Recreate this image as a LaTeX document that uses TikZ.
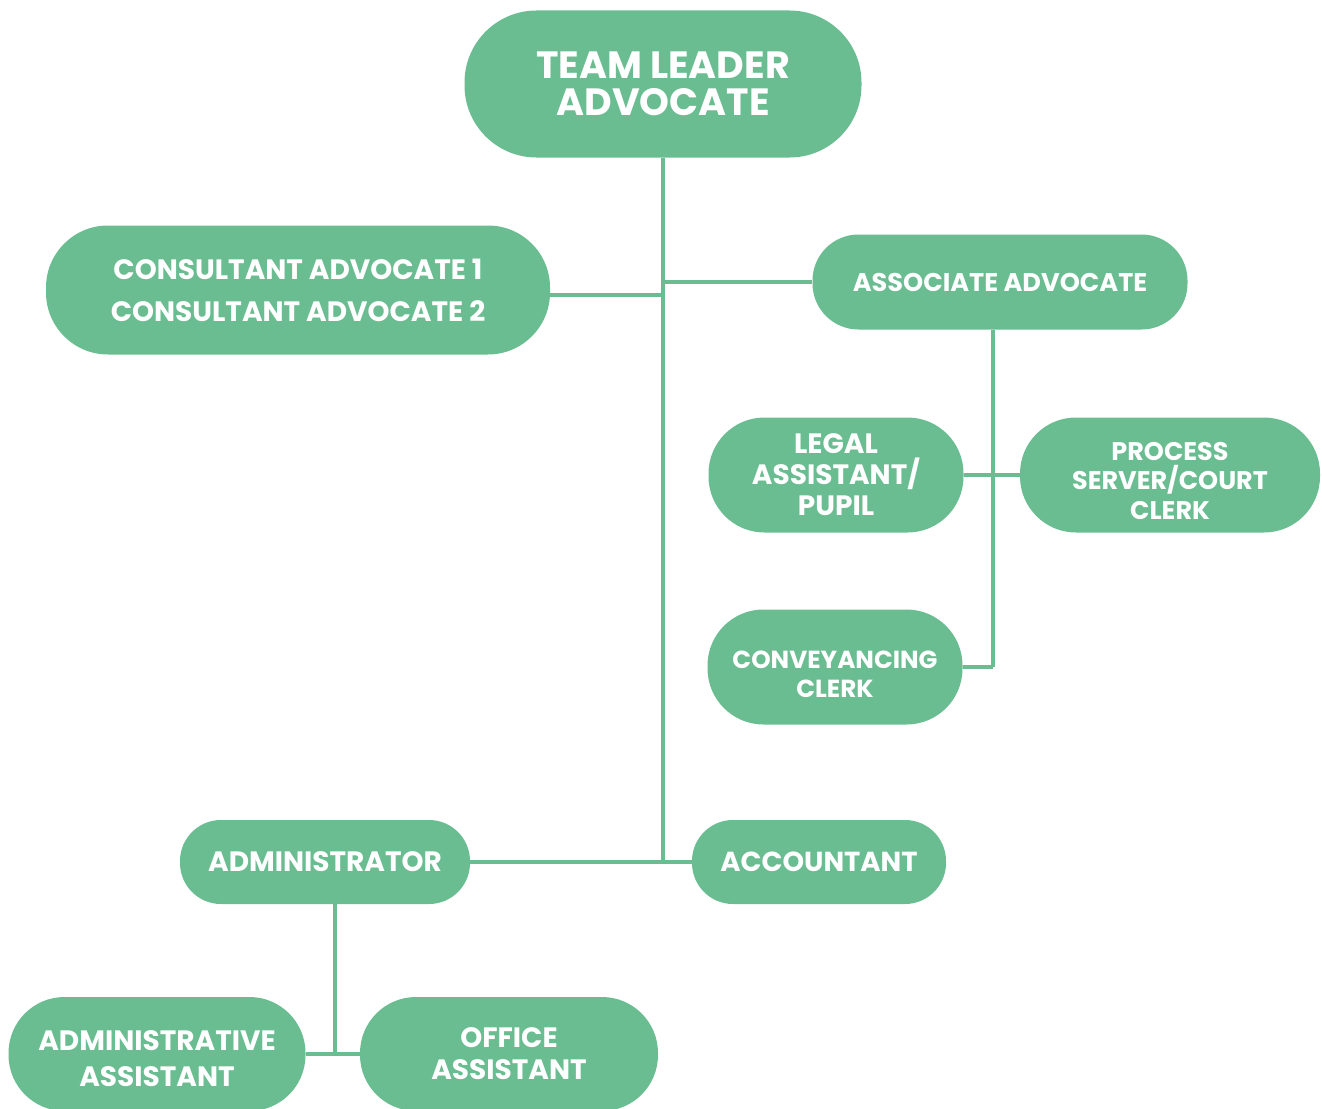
\documentclass[tikz,border=0pt]{standalone}
\usepackage{fontspec}
\setsansfont{Poppins}
\usepackage{tikz}
\usetikzlibrary{calc, positioning}
\definecolor{orggreen}{RGB}{106,189,145}

\tikzset{
	orgbox/.style={rectangle, fill=orggreen, text=white, align=center, inner sep=0pt,
		font=\sffamily\bfseries, rounded corners=#1},
	orgbox/.default=40pt,
	link/.style={draw=orggreen, line width=4pt},
}

\begin{document}
\begin{tikzpicture}[x=1pt,y=1pt,yscale=-1,xscale=1]
		\useasboundingbox (0,0) rectangle (1322,1108);
		\clip (0,0) rectangle (1322,1108);

		% Boxes
		\node [orgbox=72pt, minimum width=397pt, minimum height=147pt, font=\sffamily\bfseries\fontsize{38}{37}\selectfont] (lead) at (663,84) {TEAM LEADER\\ADVOCATE};
		\node [orgbox=62pt, minimum width=504pt, minimum height=129pt, font=\sffamily\bfseries\fontsize{28}{42}\selectfont] (cons) at (298,290) {CONSULTANT ADVOCATE 1\\CONSULTANT ADVOCATE 2};
		\node [orgbox=46pt, minimum width=375pt, minimum height=95pt, font=\sffamily\bfseries\fontsize{25.6}{30}\selectfont] (assoc) at (1000,282) {ASSOCIATE ADVOCATE};
		\node [orgbox=56pt, minimum width=255pt, minimum height=115pt, font=\sffamily\bfseries\fontsize{28}{31}\selectfont] (legal) at (836,475) {LEGAL\\ASSISTANT/\\PUPIL};
		\node [orgbox=56pt, minimum width=300pt, minimum height=115pt, font=\sffamily\bfseries\fontsize{25.5}{29.5}\selectfont] (proc) at (1170,475) {\rule{0pt}{30pt}PROCESS\\SERVER/COURT\\CLERK};
		\node [orgbox=56pt, minimum width=255pt, minimum height=115pt, font=\sffamily\bfseries\fontsize{24.7}{29}\selectfont] (conv) at (835,667) {\rule{0pt}{32pt}CONVEYANCING\\CLERK};
		\node [orgbox=41pt, minimum width=290pt, minimum height=84pt, font=\sffamily\bfseries\fontsize{28}{30}\selectfont] (admin) at (325,862) {ADMINISTRATOR};
		\node [orgbox=41pt, minimum width=254pt, minimum height=84pt, font=\sffamily\bfseries\fontsize{27.5}{30}\selectfont] (acct) at (819,862) {ACCOUNTANT};
		\node [orgbox=56pt, minimum width=297pt, minimum height=114pt, font=\sffamily\bfseries\fontsize{28}{36}\selectfont] (adasst) at (157,1054) {\rule{0pt}{30pt}ADMINISTRATIVE\\ASSISTANT};
		\node [orgbox=56pt, minimum width=298pt, minimum height=114pt, font=\sffamily\bfseries\fontsize{28}{32}\selectfont] (office) at (509,1054) {OFFICE\\ASSISTANT};

		% Junction points
		\coordinate (trunk) at (lead.south |- acct.west);
		\coordinate (assocdrop) at ([xshift=-7pt]assoc.south);
		\coordinate (admindrop) at ([xshift=10pt]admin.south);

		% Connectors
		\draw [link] (lead.south) -- (trunk);
		\draw [link] ([yshift=5pt]cons.east) -- ([yshift=5pt]cons.east -| lead.south);
		\draw [link] (assoc.west) -- (assoc.west -| lead.south);
		\draw [link] (admin.east) -- (acct.west);
		\draw [link] (assocdrop) -- (assocdrop |- conv.east);
		\draw [link] (legal.east) -- (proc.west);
		\draw [link] (conv.east) -- (conv.east -| assocdrop);
		\draw [link] (admindrop) -- (admindrop |- office.west);
		\draw [link] (adasst.east) -- (office.west);

\end{tikzpicture}
\end{document}
